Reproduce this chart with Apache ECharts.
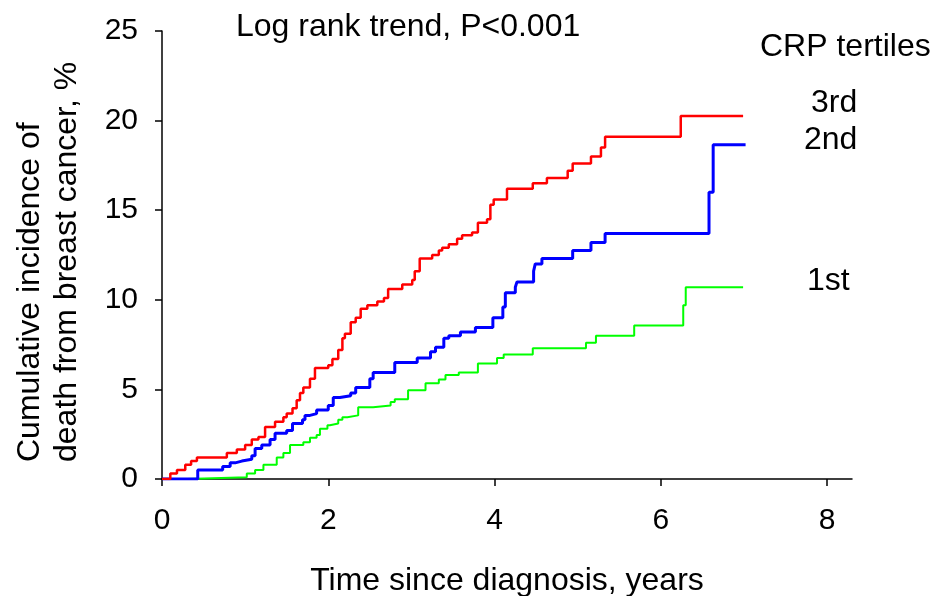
<!DOCTYPE html>
<html>
<head>
<meta charset="utf-8">
<script src="https://cdn.jsdelivr.net/npm/echarts@6/dist/echarts.min.js"></script>
<style>html,body{margin:0;padding:0;background:#fff}#c{width:936px;height:596px}</style>
</head>
<body>
<div id="c"></div>
<script>
const xTicks = [0, 2, 4, 6, 8];
const yTicks = [0, 5, 10, 15, 20, 25];
const seriesNames = ['3rd', '2nd', '1st'];
const yNameLines = ['Cumulative incidence of', 'death from breast cancer, %'];

const thirdT = [0,0.04,0.1,0.18,0.28,0.35,0.42,0.78,0.9,1.0,1.08,1.16,1.24,1.36,1.46,1.5,1.57,1.62,1.66,1.7,1.78,1.84,2.0,2.05,2.12,2.17,2.2,2.27,2.33,2.39,2.47,2.59,2.67,2.72,2.89,3.01,3.04,3.1,3.25,3.33,3.37,3.45,3.55,3.61,3.73,3.8,3.91,3.95,3.99,4.15,4.46,4.63,4.88,4.94,5.16,5.28,5.33,6.24,6.99];
const thirdY = [0,0,0.3,0.5,0.8,1.0,1.2,1.45,1.65,1.9,2.2,2.35,2.9,3.2,3.45,3.65,3.95,4.4,4.8,5.1,5.6,6.2,6.35,6.7,7.2,7.85,8.1,8.75,9.0,9.5,9.7,9.9,10.1,10.6,10.85,11.1,11.6,12.3,12.5,12.75,12.9,13.1,13.4,13.6,13.75,14.3,14.5,15.3,15.6,16.2,16.5,16.8,17.2,17.6,18.0,18.5,19.1,20.25,20.25];

const secondT = [0,0.43,0.73,0.82,0.88,0.96,1.08,1.12,1.2,1.3,1.36,1.5,1.57,1.69,1.72,1.78,1.86,2.0,2.06,2.14,2.27,2.33,2.5,2.54,2.8,3.07,3.23,3.29,3.39,3.45,3.59,3.77,3.98,4.1,4.13,4.25,4.27,4.47,4.49,4.57,4.94,5.16,5.33,6.58,6.63,7.02];
const secondY = [0,0.5,0.7,0.9,1.0,1.1,1.3,1.7,1.9,2.2,2.55,2.7,3.1,3.3,3.55,3.65,3.85,4.1,4.55,4.65,4.8,5.1,5.6,5.95,6.5,6.75,7.1,7.35,7.85,8.0,8.2,8.45,9.0,9.6,10.4,10.7,11.0,11.6,12.0,12.3,12.75,13.2,13.7,16.0,18.65,18.65];

const firstT = [0,0.3,1.02,1.12,1.22,1.38,1.46,1.54,1.7,1.78,1.86,1.9,1.99,2.02,2.12,2.17,2.23,2.36,2.54,2.75,2.8,2.96,3.17,3.33,3.41,3.57,3.8,4.03,4.11,4.46,5.1,5.22,5.68,6.27,6.3,6.99];
const firstY = [0,0.1,0.3,0.5,0.8,1.2,1.45,1.9,2.05,2.3,2.45,2.8,3.0,3.1,3.3,3.45,3.55,4.0,4.1,4.3,4.45,4.95,5.35,5.55,5.8,5.95,6.45,6.75,6.95,7.3,7.6,8.0,8.57,9.7,10.7,10.7];

const zip = (t, y) => t.map((v, i) => [v, y[i]]);
const FONT = '"Liberation Sans", Arial, sans-serif';

const chart = echarts.init(document.getElementById('c'), null, {renderer: 'canvas'});
chart.setOption({
  animation: false,
  backgroundColor: '#fff',
  grid: {left: 162, top: 31, right: 84, bottom: 117, containLabel: false, outerBoundsMode: 'none'},
  xAxis: {
    type: 'value', min: 0, max: 8.3,
    name: 'Time since diagnosis, years', nameLocation: 'middle', nameGap: 86,
    nameTextStyle: {fontFamily: FONT, fontSize: 32, color: '#000'},
    axisLine: {show: true, lineStyle: {color: '#000', width: 1.5}},
    axisTick: {show: true, length: 7, inside: false, lineStyle: {color: '#000', width: 1.5}, customValues: xTicks},
    axisLabel: {fontFamily: FONT, fontSize: 30, color: '#000', margin: 27, customValues: xTicks},
    splitLine: {show: false}
  },
  yAxis: {
    type: 'value', min: 0, max: 25, interval: 5,
    axisLine: {show: true, lineStyle: {color: '#000', width: 1.5}},
    axisTick: {show: true, length: 7, inside: false, lineStyle: {color: '#000', width: 1.5}, customValues: yTicks},
    axisLabel: {fontFamily: FONT, fontSize: 30, color: '#000', margin: 24, customValues: yTicks},
    splitLine: {show: false}
  },
  series: [
    {name: seriesNames[0], type: 'line', step: 'end', showSymbol: false, data: zip(thirdT, thirdY), lineStyle: {color: '#ff0000', width: 2.5}, z: 3},
    {name: seriesNames[1], type: 'line', step: 'end', showSymbol: false, data: zip(secondT, secondY), lineStyle: {color: '#0000ff', width: 3}, z: 2},
    {name: seriesNames[2], type: 'line', step: 'end', showSymbol: false, data: zip(firstT, firstY), lineStyle: {color: '#00ff00', width: 2}, z: 1}
  ],
  graphic: [
    {type: 'text', left: 236, top: 11, style: {text: 'Log rank trend, P<0.001', font: '32px ' + FONT, fill: '#000'}},
    {type: 'text', left: 760, top: 31, style: {text: 'CRP tertiles', font: '32px ' + FONT, fill: '#000'}},
    {type: 'text', left: 811, top: 87, style: {text: seriesNames[0], font: '32px ' + FONT, fill: '#000'}},
    {type: 'text', left: 804, top: 124, style: {text: seriesNames[1], font: '32px ' + FONT, fill: '#000'}},
    {type: 'text', left: 807, top: 265, style: {text: seriesNames[2], font: '32px ' + FONT, fill: '#000'}},
    {type: 'text', x: 30, y: 462, rotation: Math.PI / 2, style: {text: yNameLines[0], font: '32px ' + FONT, fill: '#000', align: 'left', verticalAlign: 'middle', textAlign: 'left', textVerticalAlign: 'middle'}},
    {type: 'text', x: 67, y: 462, rotation: Math.PI / 2, style: {text: yNameLines[1], font: '32px ' + FONT, fill: '#000', align: 'left', verticalAlign: 'middle', textAlign: 'left', textVerticalAlign: 'middle'}}
  ]
});
</script>
</body>
</html>
